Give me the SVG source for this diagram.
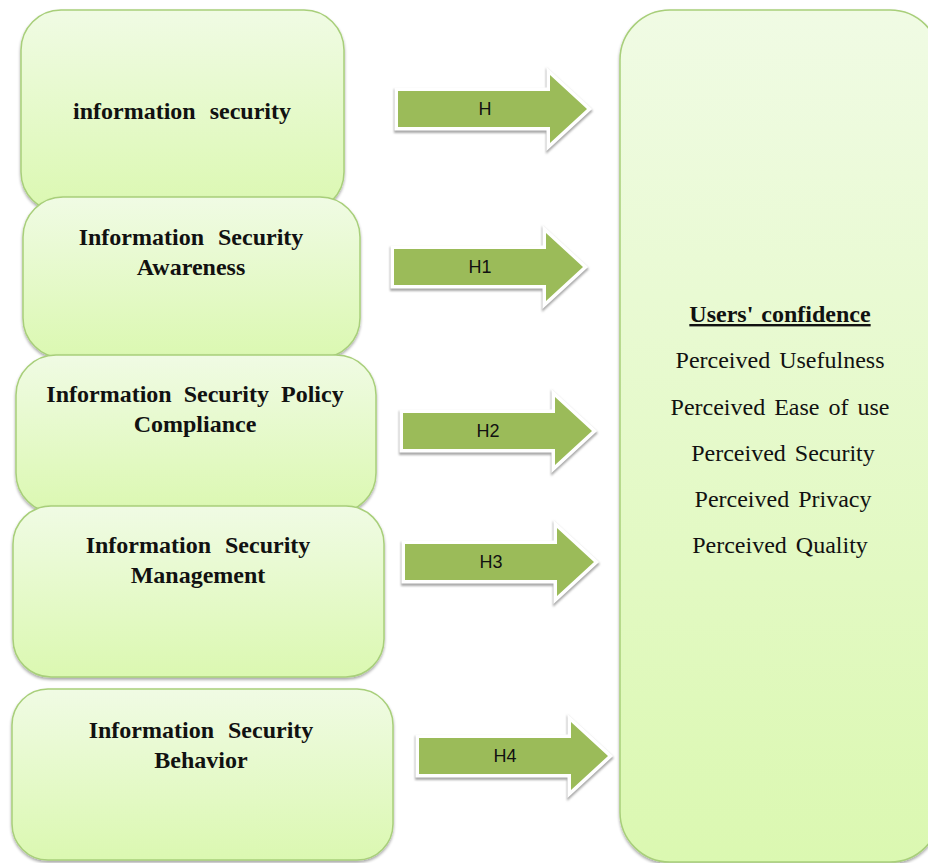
<svg xmlns="http://www.w3.org/2000/svg" width="928" height="863" viewBox="0 0 928 863">
  <defs>
    <linearGradient id="boxFill" x1="0" y1="0" x2="0" y2="1">
      <stop offset="0" stop-color="#f0fbe4"/>
      <stop offset="1" stop-color="#dbf8b1"/>
    </linearGradient>
    <filter id="boxShadow" x="-5%" y="-5%" width="110%" height="115%">
      <feGaussianBlur in="SourceAlpha" stdDeviation="1.5"/>
      <feOffset dx="0" dy="2" result="b"/>
      <feComponentTransfer><feFuncA type="linear" slope="0.35"/></feComponentTransfer>
      <feMerge><feMergeNode/><feMergeNode in="SourceGraphic"/></feMerge>
    </filter>
    <filter id="arrowShadow" x="-10%" y="-20%" width="120%" height="140%">
      <feGaussianBlur stdDeviation="0.8"/>
    </filter>
    <!-- block arrow shape, origin at left end of shaft centre -->
    <path id="blockArrow" d="M0,-18 H152 V-34 L189,0 L152,34 V18 H0 Z"/>
  </defs>
  <style>
    .box { fill: url(#boxFill); stroke: #a8cf7a; stroke-width: 1.5; filter: url(#boxShadow); }
    .label { font-family: "Liberation Serif", "Times New Roman", serif; font-size: 24px; font-weight: bold; fill: #111; text-anchor: middle; word-spacing: 8px; }
    .item { font-family: "Liberation Serif", "Times New Roman", serif; font-size: 24px; fill: #111; text-anchor: middle; word-spacing: 3px; }
    .head { font-weight: bold; text-decoration: underline; word-spacing: 2px; }
    .arrow-shadow { fill: none; stroke: #a9a9a9; stroke-width: 8; stroke-linejoin: miter; filter: url(#arrowShadow); }
    .arrow-body { fill: #9bbb59; stroke: #ffffff; stroke-width: 7; stroke-linejoin: miter; paint-order: stroke; }
    .hlabel { font-family: "Liberation Sans", Arial, sans-serif; font-size: 18px; fill: #111; text-anchor: middle; }
  </style>

  <rect width="928" height="863" fill="#ffffff"/>

  <!-- outcome box -->
  <g id="users-confidence">
    <rect class="box" x="620" y="10" width="320" height="852" rx="50" ry="50"/>
    <text class="item head" x="780" y="322">Users' confidence</text>
    <text class="item" x="780" y="368">Perceived Usefulness</text>
    <text class="item" x="780" y="415">Perceived Ease of use</text>
    <text class="item" x="783" y="461">Perceived Security</text>
    <text class="item" x="783" y="507">Perceived Privacy</text>
    <text class="item" x="780" y="553">Perceived Quality</text>
  </g>

  <!-- factor boxes, stacked so each overlaps the one above -->
  <g id="information-security">
    <rect class="box" x="21" y="10" width="323" height="202" rx="40" ry="40"/>
    <text class="label" x="182" y="119">information security</text>
  </g>
  <g id="security-awareness">
    <rect class="box" x="23" y="197" width="337" height="161" rx="40" ry="40"/>
    <text class="label" x="191" y="245">Information Security</text>
    <text class="label" x="191" y="275">Awareness</text>
  </g>
  <g id="policy-compliance">
    <rect class="box" x="16" y="355" width="360" height="158" rx="40" ry="40"/>
    <text class="label" x="195" y="402" style="word-spacing:6px">Information Security Policy</text>
    <text class="label" x="195" y="432">Compliance</text>
  </g>
  <g id="security-management">
    <rect class="box" x="13" y="506" width="371" height="171" rx="38" ry="38"/>
    <text class="label" x="198" y="553">Information Security</text>
    <text class="label" x="198" y="583">Management</text>
  </g>
  <g id="security-behavior">
    <rect class="box" x="12" y="689" width="381" height="171" rx="36" ry="36"/>
    <text class="label" x="201" y="738">Information Security</text>
    <text class="label" x="201" y="768">Behavior</text>
  </g>

  <!-- hypothesis arrows -->
  <g id="connectors">
    <g id="arrow-h" transform="translate(398,109)">
      <use href="#blockArrow" class="arrow-shadow" transform="translate(0,2)"/>
      <use href="#blockArrow" class="arrow-body"/>
      <text class="hlabel" x="87" y="6">H</text>
    </g>
    <g id="arrow-h1" transform="translate(394,267)">
      <use href="#blockArrow" class="arrow-shadow" transform="translate(0,2)"/>
      <use href="#blockArrow" class="arrow-body"/>
      <text class="hlabel" x="86" y="6">H1</text>
    </g>
    <g id="arrow-h2" transform="translate(403,431)">
      <use href="#blockArrow" class="arrow-shadow" transform="translate(0,2)"/>
      <use href="#blockArrow" class="arrow-body"/>
      <text class="hlabel" x="85" y="6">H2</text>
    </g>
    <g id="arrow-h3" transform="translate(405,562)">
      <use href="#blockArrow" class="arrow-shadow" transform="translate(0,2)"/>
      <use href="#blockArrow" class="arrow-body"/>
      <text class="hlabel" x="86" y="6">H3</text>
    </g>
    <g id="arrow-h4" transform="translate(419,756)">
      <use href="#blockArrow" class="arrow-shadow" transform="translate(0,2)"/>
      <use href="#blockArrow" class="arrow-body"/>
      <text class="hlabel" x="86" y="6">H4</text>
    </g>
  </g>
</svg>
